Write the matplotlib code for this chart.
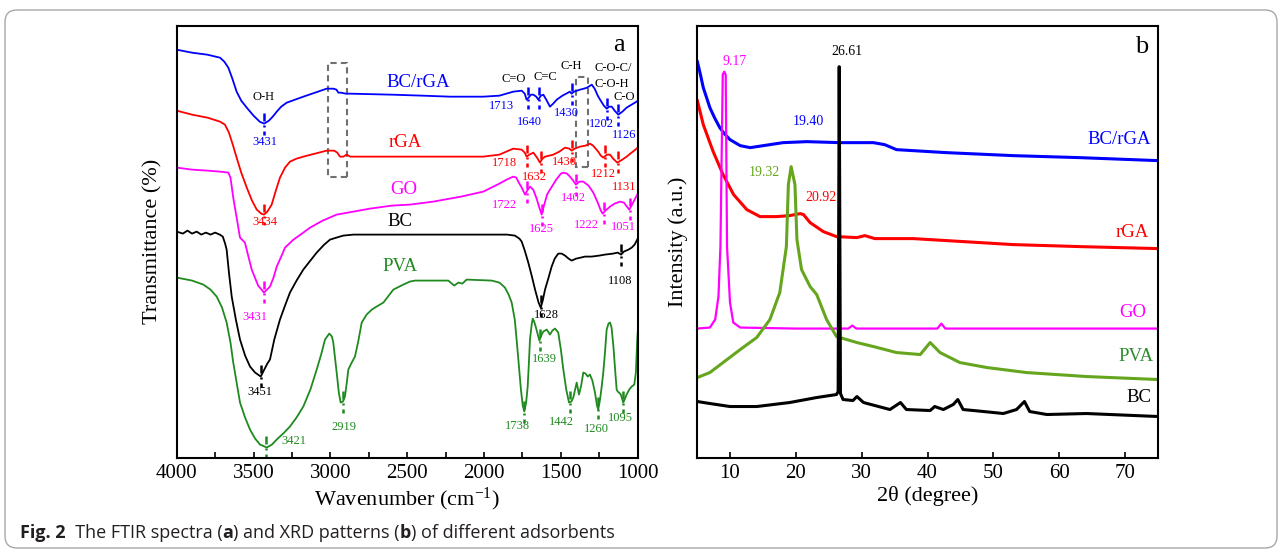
import numpy as np
import matplotlib
matplotlib.use("Agg")
import matplotlib.pyplot as plt
from matplotlib.patches import FancyBboxPatch, Rectangle
from matplotlib.text import Annotation

plt.rcParams['font.family'] = ['Liberation Serif', 'DejaVu Serif']
plt.rcParams['mathtext.default'] = 'regular'

# ---------------- FTIR data (wavenumber, transmittance in arbitrary offset units) -------------
wn_bcrga = [4000, 3900, 3800, 3718, 3690, 3664, 3640, 3610, 3580, 3544, 3500, 3460, 3431, 3400, 3375,
            3349, 3320, 3284, 3230, 3176, 3100, 3024, 2981, 2960, 2948, 2930, 2900, 2872, 2600, 2400,
            2221, 2005, 1900, 1810, 1755, 1735, 1723, 1710, 1695, 1679, 1660, 1647, 1630, 1614, 1595,
            1571, 1550, 1527, 1490, 1441, 1430, 1415, 1376, 1350, 1330, 1299, 1280, 1260, 1245, 1220,
            1202, 1185, 1169, 1150, 1126, 1100, 1072, 1040, 1007, 1000]
t_bcrga = [408, 405, 403, 400, 396, 390, 380, 366, 357, 350, 342, 336, 334, 337, 341,
           346, 351, 355, 358, 361, 365, 369, 369, 368, 365, 365, 364, 364, 363, 362,
           361, 361, 362, 366, 367, 364, 358, 360, 363, 363, 361, 358, 362, 363, 358,
           351, 354, 358, 362, 366, 364, 366, 368, 369, 370, 373, 369, 362, 358, 352,
           349, 351, 351, 347, 343, 346, 350, 353, 356, 357]

wn_rga = [4000, 3900, 3800, 3718, 3686, 3660, 3635, 3610, 3580, 3544, 3510, 3479, 3450, 3432, 3410,
          3382, 3355, 3328, 3295, 3263, 3220, 3176, 3100, 3024, 2975, 2955, 2937, 2915, 2895, 2870,
          2851, 2600, 2221, 2005, 1900, 1810, 1755, 1735, 1723, 1705, 1679, 1655, 1636, 1620, 1603,
          1549, 1510, 1473, 1445, 1430, 1410, 1376, 1340, 1311, 1290, 1257, 1240, 1224, 1200, 1180,
          1160, 1133, 1100, 1072, 1040, 1007, 1000]
t_rga = [347, 343, 340, 336, 333, 325, 313, 300, 285, 270, 257, 248, 244, 243, 246,
         253, 267, 280, 290, 296, 299, 301, 304, 307, 307, 305, 301, 301, 303, 301,
         301, 301, 301, 301, 303, 309, 308, 305, 301, 303, 305, 300, 295, 299, 301,
         303, 306, 310, 309, 307, 309, 311, 312, 314, 312, 306, 302, 300, 303, 303,
         299, 295, 298, 301, 305, 309, 310]

wn_go = [4000, 3900, 3800, 3718, 3664, 3650, 3632, 3610, 3588, 3556, 3512, 3470, 3432, 3393, 3370,
         3349, 3320, 3295, 3240, 3176, 3132, 3050, 2959, 2850, 2742, 2600, 2482, 2330, 2150, 2005,
         1900, 1853, 1810, 1790, 1777, 1755, 1733, 1715, 1701, 1680, 1660, 1640, 1625, 1610, 1590,
         1571, 1530, 1500, 1484, 1460, 1441, 1420, 1402, 1380, 1354, 1320, 1289, 1260, 1240, 1228,
         1210, 1180, 1150, 1115, 1090, 1070, 1055, 1040, 1020, 1003, 1000]
t_go = [290, 288, 287, 286, 285, 280, 260, 240, 220, 215, 188, 172, 165, 171, 180,
        191, 201, 210, 218, 225, 230, 237, 243, 246, 249, 252, 253, 256, 261, 266,
        274, 278, 281, 280, 276, 270, 263, 268, 271, 268, 260, 250, 243, 252, 263,
        268, 278, 284, 285, 284, 281, 277, 273, 276, 276, 272, 265, 255, 247, 244,
        247, 251, 254, 256, 255, 251, 248, 252, 258, 263, 264]

wn_bc = [4000, 3960, 3930, 3900, 3870, 3840, 3810, 3780, 3750, 3720, 3700, 3685, 3675, 3660, 3642,
         3615, 3588, 3555, 3523, 3490, 3453, 3430, 3410, 3393, 3365, 3328, 3295, 3263, 3220, 3176,
         3130, 3089, 3040, 3002, 2960, 2916, 2850, 2742, 2600, 2400, 2200, 2000, 1850, 1799, 1770,
         1755, 1735, 1712, 1690, 1668, 1645, 1631, 1618, 1603, 1580, 1560, 1540, 1517, 1495, 1473,
         1450, 1430, 1400, 1370, 1343, 1300, 1250, 1213, 1160, 1130, 1108, 1090, 1060, 1039, 1020,
         1003, 1000]
t_bc = [226, 224, 227, 224, 226, 223, 225, 223, 225, 223, 221, 214, 208, 185, 161,
        138, 118, 102, 91, 85, 81, 88, 94, 98, 118, 138, 152, 165, 177, 188,
        197, 205, 213, 218, 220, 222, 223, 223, 223, 223, 223, 223, 223, 222, 219,
        216, 207, 195, 182, 168, 155, 150, 157, 168, 180, 191, 199, 204, 204, 202,
        199, 197, 199, 200, 201, 201, 202, 203, 204, 205, 203, 206, 208, 210, 213,
        218, 219]

wn_pva = [4000, 3900, 3827, 3780, 3740, 3705, 3675, 3650, 3632, 3610, 3588, 3555, 3523, 3490, 3458,
          3414, 3380, 3349, 3300, 3263, 3220, 3176, 3130, 3089, 3060, 3035, 3007, 2990, 2981, 2970,
          2959, 2945, 2933, 2918, 2905, 2893, 2883, 2861, 2840, 2820, 2796, 2764, 2730, 2699, 2655,
          2620, 2590, 2525, 2482, 2449, 2233, 2194, 2167, 2141, 2113, 1950, 1900, 1864, 1840, 1820,
          1800, 1788, 1775, 1760, 1748, 1738, 1726, 1716, 1708, 1701, 1690, 1683, 1674, 1664, 1650,
          1640, 1628, 1614, 1592, 1571, 1555, 1538, 1517, 1500, 1484, 1465, 1447, 1432, 1419, 1397,
          1382, 1368, 1354, 1340, 1325, 1311, 1295, 1278, 1265, 1257, 1245, 1235, 1224, 1213, 1202,
          1190, 1180, 1170, 1158, 1148, 1137, 1130, 1122, 1110, 1094, 1085, 1072, 1055, 1039, 1022,
          1012, 1003, 1000]
t_pva = [180, 177, 173, 168, 161, 150, 135, 115, 95, 75, 55, 40, 28, 19, 13,
         10, 13, 18, 25, 31, 40, 51, 68, 88, 103, 118, 124, 121, 115, 100,
         85, 65, 55, 56, 61, 75, 88, 95, 101, 115, 135, 143, 148, 151, 155,
         162, 168, 173, 176, 177, 177, 172, 175, 174, 178, 177, 175, 170, 163, 155,
         138, 118, 95, 68, 52, 46, 55, 71, 95, 118, 133, 139, 136, 131, 123,
         117, 122, 126, 128, 123, 127, 129, 125, 108, 88, 68, 55, 56, 60, 75,
         63, 72, 85, 84, 81, 83, 77, 65, 52, 48, 58, 70, 85, 105, 128,
         134, 135, 130, 111, 90, 68, 66, 65, 63, 55, 58, 63, 68, 71, 73,
         85, 118, 125]

# peak positions marked on each FTIR spectrum
pk_bcrga = [3431, 1713, 1640, 1430, 1202, 1126]
pk_rga = [3434, 1718, 1632, 1430, 1212, 1131]
pk_go = [3431, 1722, 1625, 1402, 1222, 1051]
pk_bc = [3451, 1628, 1108]
pk_pva = [3421, 2919, 1738, 1639, 1442, 1260, 1095]

# ---------------- XRD data (2theta, intensity in arbitrary offset units) -----------------------
tt_bcrga = [5.1, 5.5, 6.0, 6.5, 7.0, 7.7, 8.5, 9.2, 10.05, 11.6, 13.1, 15.1, 18.1, 21.7, 26.7,
            31.8, 33.5, 35.3, 37.8, 42.9, 53, 63.1, 75]
i_bcrga = [396, 385, 370, 360, 350, 340, 330, 324, 318, 312, 310, 312, 315, 316, 315,
           315, 313, 308, 307, 305, 302, 300, 297]

tt_rga = [5.1, 6, 7.5, 9, 10.6, 12.6, 14.6, 17.1, 19.1, 20.7, 21.2, 22.2, 24.2, 26.2, 29.3,
          30.5, 32, 37.8, 42.9, 53, 63.1, 75]
i_rga = [357, 333, 306, 283, 263, 248, 241, 241, 242, 244, 243, 235, 226, 221, 220,
         222, 219, 219, 217, 213, 211, 209]

tt_go = [5, 7, 7.8, 8.3, 8.6, 8.95, 9.17, 9.4, 9.6, 10.05, 10.55, 11.6, 20, 28.0, 28.6,
         29.2, 41.5, 42.1, 42.7, 75]
i_go = [129, 130, 138, 161, 211, 383, 386, 383, 211, 155, 135, 130, 129, 129, 132,
        129, 129, 134, 129, 129]

tt_pva = [5.1, 7, 9, 11.6, 14.1, 16.1, 17.6, 18.6, 18.9, 19.32, 19.9, 20.2, 20.9, 22.2, 23.2,
          24.7, 26.2, 29.3, 31.8, 35.3, 38.9, 40.4, 41.9, 44.9, 49, 55, 64.1, 75]
i_pva = [80, 85, 95, 108, 120, 138, 165, 211, 273, 291, 273, 218, 188, 171, 163,
         138, 121, 115, 111, 105, 103, 115, 105, 95, 90, 85, 81, 78]

tt_bc = [5.1, 7, 10.05, 14.1, 19.1, 23.2, 26.2, 26.45, 26.61, 26.8, 27.2, 28.7, 29.3, 30.3, 34.3,
         35.9, 36.8, 40.4, 41.1, 42.4, 43.9, 44.6, 45.4, 48.5, 51.5, 53.5, 54.7, 55.5, 58.1, 64.1, 75]
i_bc = [56, 54, 51, 51, 55, 60, 63, 66, 391, 64, 58, 57, 61, 55, 48,
        55, 48, 47, 51, 48, 53, 58, 48, 46, 44, 48, 56, 46, 43, 44, 41]

# ---------------- colours --------------------------------------------------------------------
C_BLUE, C_RED, C_MAG, C_BLK = '#0000ff', '#ff0000', '#ff00ff', '#000000'
C_GRN = '#1f8a1f'
C_GRN2 = '#66a61e'

W, H = 1282, 554
fig = plt.figure(figsize=(W / 100, H / 100), dpi=100)

def frac(x0, y0, x1, y1):
    return [x0 / W, 1 - y1 / H, (x1 - x0) / W, (y1 - y0) / H]

axA = fig.add_axes(frac(176.7, 25.7, 637.7, 457.5))
axB = fig.add_axes(frac(696.7, 25.7, 1158.3, 457.5))

# ---------------- panel a ----------------
series_a = [(wn_bcrga, t_bcrga, pk_bcrga, C_BLUE), (wn_rga, t_rga, pk_rga, C_RED),
            (wn_go, t_go, pk_go, C_MAG), (wn_bc, t_bc, pk_bc, C_BLK),
            (wn_pva, t_pva, pk_pva, C_GRN)]
for wn, t, pk, c in series_a:
    axA.plot(wn, t, color=c, lw=1.3, solid_joinstyle='round')
    wa = np.array(wn)[::-1]
    ta = np.array(t)[::-1]
    for p in pk:
        yc = np.interp(p, wa, ta)
        axA.plot([p, p], [yc + 11, yc - 11], color=c, lw=1.8,
                 linestyle=(0, (3.2, 1.6, 0.8, 1.6)))

for (x0, x1, y0, y1) in [(3014, 2895, 281, 395), (1404, 1322, 291, 381)]:
    axA.add_patch(Rectangle((x1, y0), x0 - x1, y1 - y0, fill=False, ec='#707070',
                            lw=1.5, ls=(0, (3, 2))))

small = 9
labels_a = [
    ('O-H', 3436, 361, C_BLK), ('3431', 3425, 316, C_BLUE), ('3434', 3425, 236, C_RED),
    ('3431', 3491, 141, C_MAG), ('3451', 3458, 66, C_BLK), ('3421', 3237, 17, C_GRN),
    ('2919', 2911, 31, C_GRN),
    ('C=O', 1809, 379, C_BLK), ('C=C', 1603, 381, C_BLK), ('C-H', 1430, 392, C_BLK),
    ('C-O-C/', 1160, 390, C_BLK), ('C-O-H', 1172, 374, C_BLK), ('C-O', 1090, 361, C_BLK),
    ('1713', 1885, 352, C_BLUE), ('1640', 1707, 336, C_BLUE), ('1430', 1462, 345, C_BLUE),
    ('1202', 1234, 334, C_BLUE), ('1126', 1087, 323, C_BLUE),
    ('1718', 1870, 295, C_RED), ('1632', 1673, 281, C_RED), ('1430', 1478, 296, C_RED),
    ('1212', 1221, 284, C_RED), ('1131', 1087, 271, C_RED),
    ('1722', 1864, 253, C_MAG), ('1625', 1625, 229, C_MAG), ('1402', 1419, 260, C_MAG),
    ('1222', 1332, 233, C_MAG), ('1051', 1094, 231, C_MAG),
    ('1108', 1115, 177, C_BLK), ('1628', 1592, 143, C_BLK),
    ('1639', 1608, 99, C_GRN), ('1738', 1781, 32, C_GRN), ('1442', 1495, 36, C_GRN),
    ('1260', 1267, 29, C_GRN), ('1095', 1115, 40, C_GRN),
]
for s, x, y, c in labels_a:
    axA.text(x, y, s, color=c, fontsize=small, ha='center', va='center')

big = 13.5
for s, x, y, c in [('BC/rGA', 2428, 375, C_BLUE), ('rGA', 2514, 315, C_RED),
                   ('GO', 2525, 268, C_MAG), ('BC', 2547, 236, C_BLK),
                   ('PVA', 2547, 191, C_GRN)]:
    axA.text(x, y, s, color=c, fontsize=big, ha='center', va='center')
axA.text(1120, 413, 'a', fontsize=19, ha='center', va='center')

axA.set_xlim(4000, 1000)
axA.set_ylim(0, 432)
axA.set_xticks([4000, 3500, 3000, 2500, 2000, 1500, 1000])
axA.set_xticks(np.arange(1250, 4000, 500), minor=True)
axA.set_yticks([])
axA.tick_params(axis='x', which='both', direction='in', length=4, width=1.2,
                labelsize=15, pad=5)
axA.set_xlabel('Wavenumber (cm$^{-1}$)', fontsize=16, labelpad=2)
axA.set_ylabel('Transmittance (%)', fontsize=16, labelpad=10)

# ---------------- panel b ----------------
for tt, ii, c in [(tt_bcrga, i_bcrga, C_BLUE), (tt_rga, i_rga, C_RED), (tt_go, i_go, C_MAG),
                  (tt_pva, i_pva, C_GRN2), (tt_bc, i_bc, C_BLK)]:
    lw = 2.2 if c != C_MAG else 1.6
    axB.plot(tt, ii, color=c, lw=lw, solid_joinstyle='round')

numsize = 10
for s, x, y, c in [('9.17', 10.8, 396, C_MAG), ('26.61', 27.8, 406, C_BLK),
                   ('19.40', 21.9, 336, C_BLUE), ('19.32', 15.2, 285, C_GRN2),
                   ('20.92', 23.85, 260, C_RED)]:
    axB.text(x, y, s, color=c, fontsize=numsize, ha='center', va='center')
for s, x, y, c in [('BC/rGA', 69.1, 318, C_BLUE), ('rGA', 71.1, 225, C_RED),
                   ('GO', 71.2, 145, C_MAG), ('PVA', 71.6, 101, '#2e8b2e'),
                   ('BC', 72.0, 60, C_BLK)]:
    axB.text(x, y, s, color=c, fontsize=big, ha='center', va='center')
axB.text(72.5, 411, 'b', fontsize=19, ha='center', va='center')

axB.set_xlim(5, 75)
axB.set_ylim(0, 432)
axB.set_xticks([10, 20, 30, 40, 50, 60, 70])
axB.set_yticks([])
axB.tick_params(axis='x', direction='in', length=4, width=1.2, labelsize=15, pad=5)
axB.set_xlabel('2θ (degree)', fontsize=16, labelpad=2)
axB.set_ylabel('Intensity (a.u.)', fontsize=16, labelpad=6)

for ax in (axA, axB):
    for sp in ax.spines.values():
        sp.set_linewidth(1.5)

# ---------------- border and caption ----------------
border = FancyBboxPatch((0.05, 0.06), 12.72, 5.38, boxstyle='round,pad=0,rounding_size=0.12',
                        transform=fig.dpi_scale_trans, fill=False, ec='#a8a8a8', lw=1.0)
fig.patches.append(border)

cap_font = ['Open Sans', 'DejaVu Sans']
cs = 13.0
t0 = fig.text(20 / W, 1 - 533 / H, 'Fig. 2', fontsize=cs, fontweight='bold',
              family=cap_font, va='center', ha='left', color='#231f20')
parts = [('  The FTIR spectra (', 'normal'), ('a', 'bold'), (') and XRD patterns (', 'normal'),
         ('b', 'bold'), (') of different adsorbents', 'normal')]
prev = t0
for s, wgt in parts:
    prev = fig.add_artist(Annotation(
        s, xy=(1, 0), xycoords=prev, xytext=(0, 0), textcoords='offset points',
        fontsize=cs, fontweight=wgt, family=cap_font, color='#231f20',
        va='bottom', ha='left', annotation_clip=False))

fig.savefig('out.png', dpi=100)
